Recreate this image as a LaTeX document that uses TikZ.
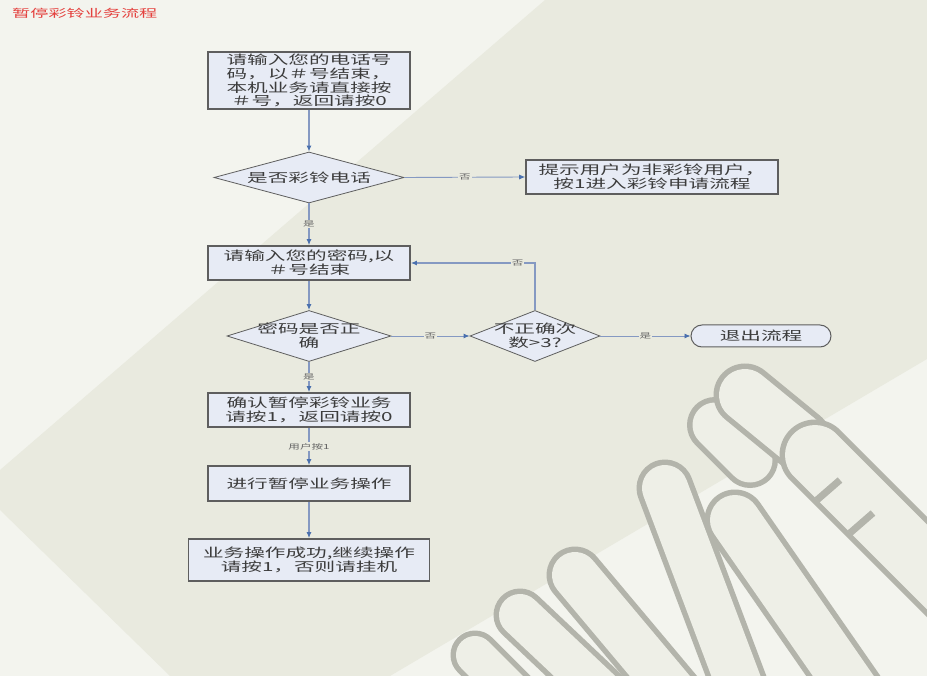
\documentclass[tikz,border=0pt]{standalone}
\usepackage{fontspec}
\setmainfont[FakeStretch=1.65]{Noto Sans CJK SC}
\usetikzlibrary{shapes.geometric,arrows.meta}
\definecolor{bgdark}{HTML}{E9EADF}
\definecolor{bglight}{HTML}{F3F4EE}
\definecolor{boxfill}{HTML}{E7EBF5}
\definecolor{boxline}{HTML}{5E5E5E}
\definecolor{linecol}{HTML}{8599C2}
\definecolor{tipcol}{HTML}{4A70AE}
\definecolor{txtcol}{HTML}{3C3C3C}
\definecolor{titlered}{HTML}{E4413E}
\definecolor{wmgray}{HTML}{B3B4AB}
\definecolor{wmfill}{HTML}{EEEFE7}
\begin{document}
\begin{tikzpicture}[x=1pt,y=-1pt,
  stepbox/.style={draw=boxline, line width=1.6pt, fill=boxfill, text=txtcol, align=center, inner sep=0pt, font=\fontsize{12.5}{13.8}\selectfont},
  decision/.style={diamond, draw=boxline, line width=0.8pt, fill=boxfill, inner sep=0pt},
  dtext/.style={text=txtcol, align=center, inner sep=0pt, font=\fontsize{12.5}{13.8}\selectfont},
  terminal/.style={draw=boxline, line width=1pt, fill=boxfill, rounded corners=11pt, text=txtcol, inner sep=0pt, font=\fontsize{12.5}{13.8}\selectfont},
  flowthick/.style={draw=linecol, line width=2.6pt, -{Latex[length=6pt,width=5pt,color=tipcol]}},
  flowthin/.style={draw=linecol, line width=0.9pt, -{Latex[length=6pt,width=5pt,color=tipcol]}},
  lbl/.style={fill=bgdark, text=txtcol!80, inner sep=1pt, font=\fontsize{7}{8}\selectfont},
  wm/.style={draw=wmgray, line width=5.5pt, double=wmfill, double distance=#1, line cap=round, line join=round},
]
\useasboundingbox (0,0) rectangle (927,676);
\clip (0,0) rectangle (927,676);
% background
\fill[bglight] (0,0) rectangle (927,676);
\fill[bgdark] (0,470) -- (545,0) -- (927,0) -- (927,359) -- (390,676) -- (170,676) -- (0,510) -- cycle;
% watermark
\draw[wm=38pt] (475,655) -- (520,700);
\draw[wm=42pt] (520,615) -- (610,700);
\draw[wm=46pt] (575,575) -- (680,700);
\draw[wm=46pt] (665,488) -- (745,700);
\draw[wm=50pt] (735,520) -- (860,700);
\draw[wm=45pt] (715,425) -- (750,460);
\draw[wm=52pt] (745,395) -- (800,440);
\draw[wm=60pt] (815,455) -- (960,600);
\draw[wmgray, line width=7pt] (817,500) -- (840,480) (850,533) -- (873,513);
% title
\node[anchor=west, text=titlered, font=\fontsize{11}{12}\selectfont, inner sep=0pt] (title) at (12,13) {暂停彩铃业务流程};
% nodes
\node[stepbox, minimum width=202pt, minimum height=57pt] (box1) at (309,80.5)
  {请输入您的电话号\\码，以＃号结束，\\本机业务请直接按\\＃号，返回请按0};
\node[decision, minimum width=190pt, minimum height=51pt] (d1) at (309,177.5) {};
\node[dtext] (d1t) at (d1) {是否彩铃电话};
\node[stepbox, minimum width=252pt, minimum height=34pt] (box2) at (652,177)
  {提示用户为非彩铃用户，\\按1进入彩铃申请流程};
\node[stepbox, minimum width=202pt, minimum height=34pt] (box3) at (309,263)
  {请输入您的密码,以\\＃号结束};
\node[decision, minimum width=164pt, minimum height=51pt] (d2) at (309,336) {};
\node[dtext] (d2t) at (d2) {密码是否正\\确};
\node[decision, minimum width=130pt, minimum height=51pt] (d3) at (535,336) {};
\node[dtext] (d3t) at (d3) {不正确次\\数>3?};
\node[terminal, minimum width=140pt, minimum height=22pt] (exit) at (761,336) {退出流程};
\node[stepbox, minimum width=202pt, minimum height=34pt] (box4) at (309,410)
  {确认暂停彩铃业务\\请按1，返回请按0};
\node[stepbox, minimum width=202pt, minimum height=35pt] (box5) at (309,483.5)
  {进行暂停业务操作};
\node[stepbox, minimum width=241pt, minimum height=42pt] (box6) at (309,560)
  {业务操作成功,继续操作\\请按1，否则请挂机};
% connectors
\draw[flowthick] (box1.south) -- (d1.north);
\draw[flowthin] (d1.east) -- node[lbl]{否} (box2.west);
\draw[flowthick] (d1.south) -- node[lbl]{是} (box3.north);
\draw[flowthick] (box3.south) -- (d2.north);
\draw[flowthin] (d2.east) -- node[lbl]{否} (d3.west);
\draw[flowthick] (d3.north) |- node[lbl, pos=0.57]{否} (box3.east);
\draw[flowthin] (d3.east) -- node[lbl]{是} (exit.west);
\draw[flowthick] (d2.south) -- node[lbl]{是} (box4.north);
\draw[flowthick] (box4.south) -- node[lbl]{用户按1} (box5.north);
\draw[flowthick] (box5.south) -- (box6.north);
\end{tikzpicture}
\end{document}
